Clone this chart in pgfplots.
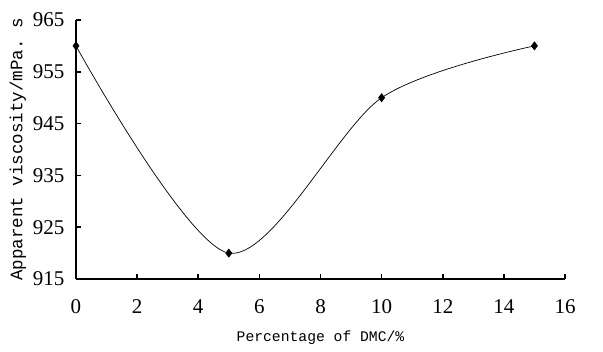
\documentclass[border=0pt]{standalone}
\usepackage{pgfplots}
\pgfplotsset{compat=1.18}
\usepackage{fontspec}
\setmainfont{Liberation Serif}
\setmonofont{Liberation Mono}
\begin{document}
\begin{tikzpicture}
\begin{axis}[
  name=ax,
  scale only axis,
  width=489pt, height=259pt,
  xmin=0, xmax=16, ymin=915, ymax=965,
  xtick={0,2,...,16},
  ytick={915,925,...,965},
  axis x line*=bottom, axis y line*=left,
  axis line style={line width=1.6pt,-},
  tick style={line width=1.6pt, black},
  major tick length=5pt,
  tick align=inside,
  /pgf/number format/assume math mode=true,
  ticklabel style={font=\fontsize{21}{21}\selectfont},
  xticklabel style={yshift=-17pt},
  yticklabel style={xshift=-8pt},
  xlabel={\ttfamily\fontsize{14.7}{16}\selectfont Percentage of DMC/\%},
  ylabel={\ttfamily\fontsize{17.5}{18}\selectfont Apparent viscosity/mPa. s},
  xlabel style={yshift=-10pt},
  ylabel style={yshift=0pt},
  clip=false,
]
\addplot[black, line width=0.7pt, smooth, mark=diamond*, mark size=4pt,
  mark options={solid, fill=black}]
  coordinates {(0,960) (5,920) (10,950) (15,960)};
\end{axis}
\path (ax.south west) ++(-76pt,-73pt) rectangle ++(603pt,352pt);
\end{tikzpicture}
\end{document}
